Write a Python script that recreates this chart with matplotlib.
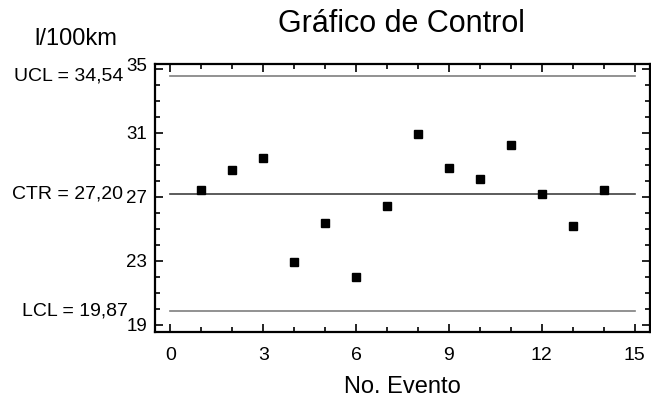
import numpy as np
import matplotlib.pyplot as plt
from matplotlib.ticker import MultipleLocator
from matplotlib.transforms import ScaledTranslation

plt.rcParams['font.family'] = ['Liberation Sans', 'DejaVu Sans']

eventos = np.arange(1, 15)
consumo = [27.44, 28.69, 29.44, 22.94, 25.38, 22.0, 26.44,
           30.94, 28.81, 28.13, 30.25, 27.19, 25.19, 27.44]
ucl = 34.54
ctr = 27.20
lcl = 19.87
y_ticks = [19, 23, 27, 31, 35]
x_ticks = [0, 3, 6, 9, 12, 15]

fig = plt.figure(figsize=(6.51, 4.0), dpi=100)
ax = fig.add_axes([155 / 651, 68 / 400, 495 / 651, 268 / 400])

ax.plot([0, 15], [ucl, ucl], color='#7f7f7f', lw=1.2)
ax.plot([0, 15], [lcl, lcl], color='#7f7f7f', lw=1.2)
ax.plot([0, 15], [ctr, ctr], color='#404040', lw=1.2)
ax.plot(eventos, consumo, 's', color='black', ms=5.5, ls='none')

ax.set_xlim(-0.5, 15.5)
ax.set_ylim(18.56, 35.31)
ax.set_xticks(x_ticks)
ax.set_yticks(y_ticks)
ax.xaxis.set_minor_locator(MultipleLocator(1))
ax.yaxis.set_minor_locator(MultipleLocator(1))
ax.tick_params(which='both', direction='in', top=True, right=True,
               width=1.2, colors='black')
ax.tick_params(which='major', length=6)
ax.tick_params(which='minor', length=3.5)
ax.tick_params(axis='y', pad=5.5, labelsize=13.5)
ax.tick_params(axis='x', pad=10.5, labelsize=14)
for s in ax.spines.values():
    s.set_linewidth(1.6)

# the top label sits a little higher in the original
fig.canvas.draw()
top_lbl = ax.get_yticklabels()[-1]
top_lbl.set_transform(top_lbl.get_transform() + ScaledTranslation(0, 4 / 100, fig.dpi_scale_trans))

fig.text(402 / 651, 7 / 400, 'No. Evento', ha='center', va='baseline', fontsize=17)
fig.text(401 / 651, 1 - 32 / 400, 'Gráfico de Control', ha='center', va='baseline', fontsize=22)
fig.text(76 / 651, 1 - 45 / 400, 'l/100km', ha='center', va='baseline', fontsize=17)

for val, txt, off in [(ucl, 'UCL = 34,54', -23), (ctr, 'CTR = 27,20', -23), (lcl, 'LCL = 19,87', -19.5)]:
    ax.annotate(txt, xy=(0, val), xycoords=('axes fraction', 'data'),
                xytext=(off, 0), textcoords='offset points', ha='right', va='center',
                fontsize=14)

fig.savefig('out.png', dpi=100)
